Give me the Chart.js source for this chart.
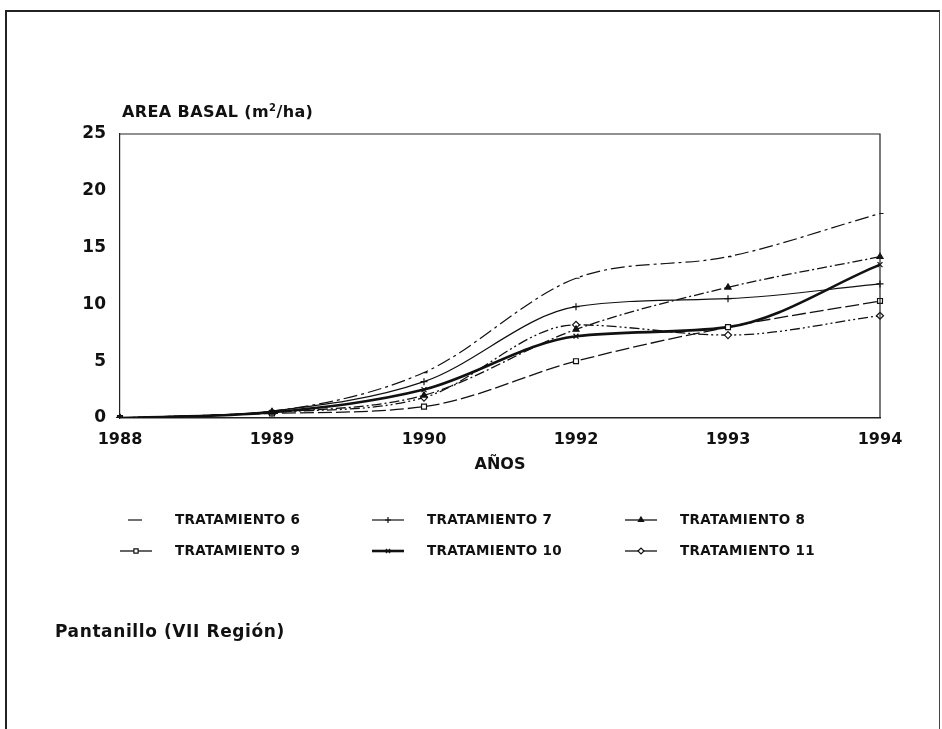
<!DOCTYPE html>
<html>
<head>
<meta charset="utf-8">
<script src="https://cdn.jsdelivr.net/npm/chart.js@4.4.1/dist/chart.umd.min.js"></script>
<style>
  html, body { margin: 0; padding: 0; background: #fff; }
  #wrap { position: relative; width: 942px; height: 729px; overflow: hidden; }
  #frame { position: absolute; left: 5px; top: 10px; width: 932px; height: 730px;
           border-top: 2px solid #222; border-left: 2px solid #222; border-right: 1px solid #444; }
  canvas { position: absolute; left: 0; top: 0; }
  .txt { position: absolute; font-family: "DejaVu Sans", sans-serif; font-weight: bold; color: #111; white-space: nowrap; }
  #ytitle { left: 122px; top: 102px; font-size: 16px; letter-spacing: 0.4px; }
  #note { left: 55px; top: 621px; font-size: 17px; letter-spacing: 0.6px; }
  .leg { font-size: 13.5px; letter-spacing: 0.3px; }
</style>
</head>
<body>
<div id="wrap">
  <div id="frame"></div>
  <canvas id="myChart" width="942" height="729"></canvas>
  <div class="txt" id="ytitle">AREA BASAL (m<sup style="font-size:10px">2</sup>/ha)</div>
  <div class="txt" id="note">Pantanillo (VII Región)</div>
</div>
<script>
// values
let years = ['1988', '1989', '1990', '1992', '1993', '1994'];
let names = ['TRATAMIENTO 6', 'TRATAMIENTO 7', 'TRATAMIENTO 8',
             'TRATAMIENTO 9', 'TRATAMIENTO 10', 'TRATAMIENTO 11'];
let t6  = [0, 0.6, 4.0, 12.3, 14.2, 18.0];
let t7  = [0, 0.6, 3.2, 9.8, 10.5, 11.8];
let t8  = [0, 0.5, 2.0, 7.8, 11.5, 14.2];
let t9  = [0, 0.4, 1.0, 5.0, 8.0, 10.3];
let t10 = [0, 0.5, 2.5, 7.2, 8.0, 13.5];
let t11 = [0, 0.5, 1.8, 8.2, 7.3, 9.0];
let yTicks = [0, 5, 10, 15, 20, 25];

let styles = [
  { dash: [14, 4, 3, 4], width: 1.2, point: 'dash', fill: false },
  { dash: [], width: 1.2, point: 'cross', fill: false },
  { dash: [10, 3, 2, 3], width: 1.3, point: 'triangle', fill: true },
  { dash: [14, 4], width: 1.3, point: 'rect', fill: false },
  { dash: [], width: 2.6, point: 'crossRot', fill: false },
  { dash: [10, 3, 2, 3, 2, 3], width: 1.3, point: 'rectRot', fill: false }
];
let series = [t6, t7, t8, t9, t10, t11];

let datasets = series.map(function (vals, i) {
  let s = styles[i];
  return {
    label: names[i],
    data: vals,
    borderColor: '#111',
    backgroundColor: s.fill ? '#111' : '#fff',
    borderWidth: s.width,
    borderDash: s.dash,
    cubicInterpolationMode: 'monotone',
    pointStyle: s.point,
    pointRadius: 3.5,
    pointBorderWidth: 1.2,
    pointBorderColor: '#111',
    pointBackgroundColor: s.fill ? '#111' : '#fff'
  };
});

// legend positions (2 rows x 3 columns)
let legCols = [120, 372, 625];
let legRows = [520, 551];

const framePlugin = {
  id: 'frameAndLegend',
  afterDraw(chart) {
    const ctx = chart.ctx;
    const a = chart.chartArea;
    ctx.save();
    ctx.strokeStyle = '#222';
    ctx.lineWidth = 1.2;
    ctx.beginPath();
    ctx.moveTo(a.left, a.top);
    ctx.lineTo(a.right, a.top);
    ctx.lineTo(a.right, a.bottom);
    ctx.stroke();
    // legend samples
    chart.data.datasets.forEach(function (ds, i) {
      const x = legCols[i % 3];
      const y = legRows[Math.floor(i / 3)];
      ctx.strokeStyle = '#111';
      ctx.lineWidth = ds.borderWidth;
      ctx.beginPath();
      ctx.moveTo(x + (i === 0 ? 8 : 0), y);
      ctx.lineTo(x + (i === 0 ? 22 : 32), y);
      ctx.stroke();
      if (i !== 0) {
        ctx.fillStyle = ds.pointBackgroundColor;
        ctx.lineWidth = 1.2;
        Chart.helpers.drawPoint(ctx, { pointStyle: ds.pointStyle, radius: 3, borderWidth: 1.2, rotation: 0 }, x + 16, y);
      }
    });
    ctx.restore();
  }
};

const chart = new Chart(document.getElementById('myChart'), {
  type: 'line',
  data: { labels: years, datasets: datasets },
  plugins: [framePlugin],
  options: {
    responsive: false,
    animation: false,
    layout: { padding: { left: 65, right: 62, top: 134, bottom: 253 } },
    plugins: { legend: { display: false }, tooltip: { enabled: false } },
    scales: {
      x: {
        type: 'category',
        offset: false,
        afterFit: function (s) { s.height = 58; },
        grid: { drawOnChartArea: false, drawTicks: false },
        border: { color: '#222', width: 1.5 },
        ticks: { color: '#111', padding: 12, font: { family: 'DejaVu Sans', weight: 'bold', size: 16 } },
        title: { display: true, text: 'AÑOS', color: '#111', padding: { top: 4, bottom: 2 },
                 font: { family: 'DejaVu Sans', weight: 'bold', size: 16 } }
      },
      y: {
        min: 0,
        max: 25,
        afterFit: function (s) { s.width = 55; },
        afterBuildTicks: function (s) { s.ticks = yTicks.map(function (v) { return { value: v }; }); },
        grid: { drawOnChartArea: false, drawTicks: false },
        border: { color: '#222', width: 1.2 },
        ticks: { color: '#111', padding: 14, font: { family: 'DejaVu Sans', weight: 'bold', size: 17 } }
      }
    }
  }
});

// legend text as html
const wrap = document.getElementById('wrap');
names.forEach(function (n, i) {
  const d = document.createElement('div');
  d.className = 'txt leg';
  d.textContent = n;
  d.style.left = (legCols[i % 3] + 55) + 'px';
  d.style.top = (legRows[Math.floor(i / 3)] - 9) + 'px';
  wrap.appendChild(d);
});
</script>
</body>
</html>
